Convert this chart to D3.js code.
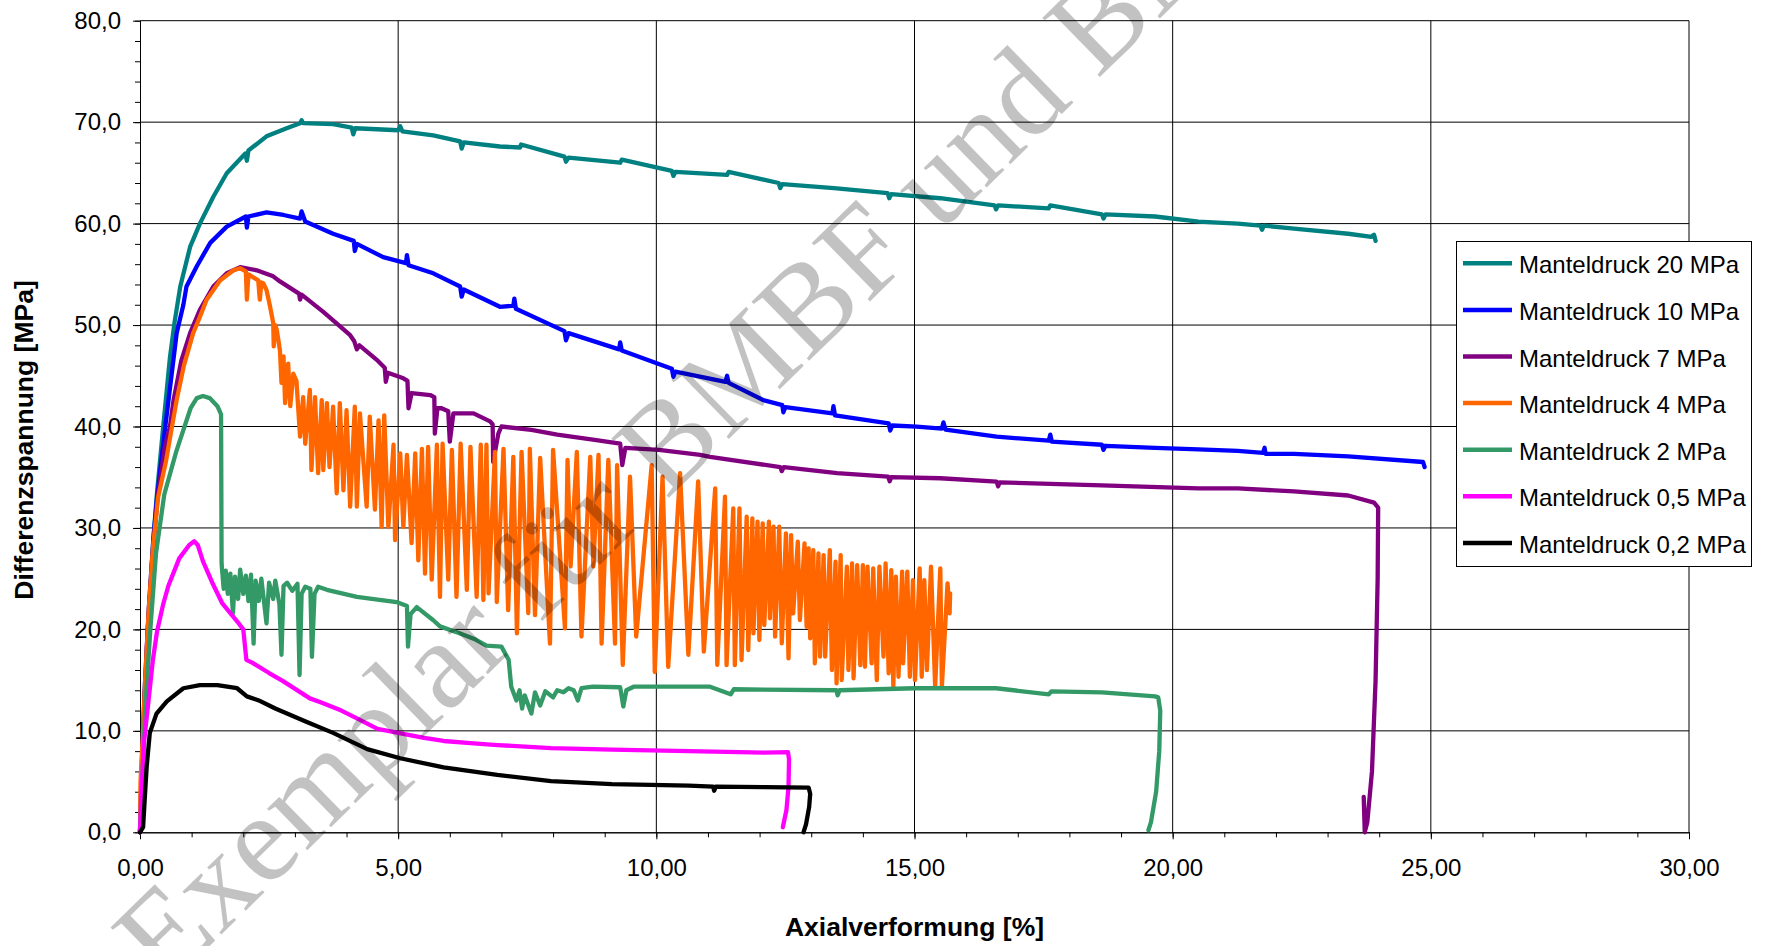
<!DOCTYPE html>
<html><head><meta charset="utf-8">
<script src="https://cdn.jsdelivr.net/npm/d3@7"></script>
<style>body{margin:0;background:#fff}svg{display:block}</style>
</head><body>
<svg id="c" width="1765" height="946"></svg>
<script>
// ---------- data ----------
const xTicks = [0, 5, 10, 15, 20, 25, 30];
const yTicks = [0, 10, 20, 30, 40, 50, 60, 70, 80];
const xMinor = d3.range(0, 31, 1);
const yMinor = d3.range(0, 81, 2);
const seriesNames = ["Manteldruck 20 MPa","Manteldruck 10 MPa","Manteldruck 7 MPa","Manteldruck 4 MPa","Manteldruck 2 MPa","Manteldruck 0,5 MPa","Manteldruck 0,2 MPa"];
const seriesColors = ["#008080","#0000ff","#800080","#ff6600","#339966","#ff00ff","#000000"];

const s20 = [[0,0],[0.04,6],[0.1,14],[0.18,22],[0.26,29],[0.33,33.5],[0.45,40],[0.58,46.8],[0.67,50.3],[0.78,53.8],[0.97,57.7],[1.16,60],[1.42,62.65],[1.68,64.96],[2.04,66.9],[2.07,66.2],[2.1,67.2],[2.45,68.6],[2.84,69.4],[3.1,69.9],[3.13,70.2],[3.16,69.9],[3.74,69.8],[4.1,69.45],[4.13,68.8],[4.17,69.4],[5.0,69.2],[5.04,69.6],[5.08,69.1],[5.68,68.7],[6.2,68.1],[6.23,67.4],[6.27,68.0],[6.97,67.6],[7.36,67.5],[7.38,67.8],[8.22,66.6],[8.25,66.1],[8.3,66.5],[9.3,66.0],[9.33,66.3],[10.3,65.2],[10.33,64.7],[10.37,65.1],[11.37,64.8],[11.4,65.1],[12.37,64.0],[12.4,63.5],[12.44,63.9],[13.44,63.5],[14.48,63.0],[14.51,62.5],[14.55,62.9],[15.5,62.5],[16.55,61.8],[16.58,61.4],[16.62,61.8],[17.6,61.5],[17.63,61.8],[18.63,60.9],[18.66,60.5],[18.7,60.9],[19.66,60.7],[20.5,60.2],[21.26,60.0],[21.7,59.8],[21.73,59.4],[21.77,59.8],[22.35,59.5],[23.4,59.0],[23.85,58.7],[23.9,58.9],[23.93,58.3]];

const s10 = [[0,0],[0.03,6],[0.09,14],[0.17,22],[0.26,29],[0.33,33],[0.49,40],[0.71,49.2],[0.84,52],[0.9,53.8],[1.1,55.8],[1.36,58.1],[1.68,59.7],[2.05,60.7],[2.07,59.6],[2.1,60.7],[2.45,61.1],[2.78,60.85],[3.1,60.5],[3.13,61.2],[3.2,60.2],[3.74,59.0],[4.14,58.3],[4.16,57.3],[4.2,58.0],[4.71,56.7],[5.15,56.1],[5.17,56.9],[5.2,55.9],[5.68,55.1],[6.2,53.8],[6.23,52.8],[6.27,53.5],[6.97,51.8],[7.23,51.9],[7.25,52.6],[7.28,51.6],[8.22,49.4],[8.25,48.5],[8.3,49.2],[9.28,47.6],[9.3,48.3],[9.33,47.5],[10.3,45.7],[10.33,44.9],[10.37,45.4],[11.34,44.4],[11.37,45.0],[11.4,44.3],[12.07,42.6],[12.44,42.1],[12.46,41.4],[12.5,41.9],[13.41,41.3],[13.43,42.0],[13.46,41.1],[14.5,40.3],[14.53,39.6],[14.57,40.1],[15.04,39.98],[15.53,39.8],[15.56,40.4],[15.6,39.7],[16.59,39.0],[17.6,38.6],[17.63,39.2],[17.66,38.5],[18.63,38.2],[18.66,37.7],[18.7,38.1],[19.66,37.9],[20.5,37.75],[21.26,37.6],[21.75,37.4],[21.78,37.9],[21.8,37.3],[22.35,37.3],[23.4,37.05],[24.85,36.5],[24.88,36.0]];

const s7 = [[0,0],[0.03,5],[0.08,12],[0.15,20],[0.24,27],[0.34,33],[0.48,38],[0.58,40],[0.65,42.6],[0.8,46.5],[0.97,49.2],[1.16,51.5],[1.42,53.8],[1.68,55.1],[1.94,55.7],[2.26,55.4],[2.58,54.8],[2.71,54.3],[3.08,53.1],[3.1,52.5],[3.13,53.0],[3.55,51.3],[4.07,49.0],[4.15,48.4],[4.2,47.6],[4.25,48.0],[4.58,46.6],[4.74,45.8],[4.76,44.4],[4.8,45.3],[5.1,44.75],[5.18,44.5],[5.2,41.8],[5.26,43.3],[5.62,43.1],[5.7,42.9],[5.71,39.3],[5.76,41.8],[5.84,41.8],[5.97,41.5],[6.0,38.5],[6.07,41.3],[6.46,41.3],[6.78,40.5],[6.83,40.2],[6.84,36.5],[6.94,39.3],[7.0,40.0],[7.58,39.66],[8.08,39.2],[8.77,38.7],[9.3,38.3],[9.34,36.2],[9.4,37.9],[9.56,37.85],[10.05,37.7],[10.85,37.2],[11.04,37.0],[12.4,36.0],[12.43,35.6],[12.47,36.0],[13.5,35.4],[14.49,35.05],[14.52,34.6],[14.55,35.0],[15.5,34.9],[16.59,34.56],[16.62,34.1],[16.65,34.5],[18.63,34.2],[20.5,33.9],[21.26,33.9],[22.35,33.6],[23.4,33.2],[23.9,32.5],[23.98,32.0],[23.97,25],[23.93,15],[23.86,6],[23.77,1],[23.72,0],[23.7,3.5],[23.72,1.0]];

const s4 = [[0,0],[0.01,5],[0.05,9],[0.1,15],[0.17,22],[0.25,28],[0.35,33],[0.5,36.5],[0.62,40],[0.71,42.6],[0.85,46],[1.03,49.2],[1.16,50.8],[1.29,52.5],[1.55,54.4],[1.81,55.4],[1.94,55.6],[2.05,55.3],[2.07,52.5],[2.1,55.0],[2.16,54.8],[2.29,54.4],[2.32,52.5],[2.35,54.2],[2.39,54.1],[2.45,53.45],[2.52,51.8],[2.58,50.2],[2.59,47.9],[2.62,50.0],[2.65,49.5],[2.71,47.5],[2.74,44.3],[2.78,46.9],[2.81,42.3],[2.87,46.2],[2.91,42.0],[2.97,45.2],[3.03,44.5],[3.1,39.0],[3.16,42.9],[3.2,38.3],[3.29,43.6],[3.32,35.7],[3.39,42.9],[3.45,35.4],[3.52,42.6],[3.55,35.7],[3.62,42.3],[3.67,36.0],[3.74,41.95],[3.81,33.4],[3.87,42.3],[3.94,33.7],[4.0,41.6],[4.07,32.1],[4.16,41.95],[4.2,32.1],[4.26,41.3],[4.39,32.1],[4.45,40.96],[4.55,31.8],[4.62,40.6],[4.68,30.1],[4.73,41.1],[4.81,30.1],[4.91,38.2],[4.94,28.8],[5.04,37.35],[5.1,30.1],[5.17,37.2],[5.26,28.5],[5.33,37.35],[5.39,26.8],[5.46,37.8],[5.52,25.5],[5.58,38.0],[5.65,24.9],[5.75,38.2],[5.81,23.2],[5.86,38.3],[5.97,24.9],[6.04,37.7],[6.13,23.2],[6.21,38.3],[6.33,23.9],[6.4,38.0],[6.52,23.2],[6.6,38.2],[6.65,22.9],[6.71,38.2],[6.75,23.55],[6.875,37.5],[6.91,22.7],[7.04,37.8],[7.13,21.9],[7.23,37.0],[7.3,19.6],[7.39,37.5],[7.52,21.6],[7.55,37.8],[7.65,21.4],[7.75,36.9],[7.94,18.6],[8.0,37.7],[8.23,20.1],[8.28,36.7],[8.34,26.2],[8.46,37.5],[8.55,19.3],[8.72,37.0],[8.78,26.2],[8.88,37.2],[8.94,18.6],[9.07,36.7],[9.2,18.6],[9.24,36.2],[9.35,16.5],[9.49,35.05],[9.61,19.3],[9.91,36.2],[9.97,15.8],[10.12,35.05],[10.23,16.3],[10.46,35.4],[10.62,17.5],[10.81,34.6],[10.92,17.8],[11.14,33.9],[11.18,16.5],[11.33,33.08],[11.36,16.48],[11.49,31.93],[11.52,16.48],[11.61,31.93],[11.65,16.98],[11.75,31.11],[11.78,17.96],[11.86,30.94],[11.88,19.6],[11.96,30.61],[11.995,18.95],[12.06,30.45],[12.09,20.43],[12.18,30.61],[12.2,21.09],[12.27,30.12],[12.3,19.28],[12.38,30.12],[12.43,18.62],[12.51,29.46],[12.56,17.14],[12.61,29.3],[12.65,21.58],[12.74,28.64],[12.78,20.92],[12.87,28.48],[12.91,20.26],[12.95,27.99],[12.98,19.11],[13.04,27.82],[13.07,16.65],[13.14,27.49],[13.17,17.31],[13.24,27.33],[13.27,17.31],[13.36,27.82],[13.4,15.99],[13.47,26.67],[13.49,14.68],[13.57,27.33],[13.59,15.0],[13.69,26.18],[13.72,15.99],[13.79,26.51],[13.82,15.17],[13.89,26.34],[13.95,16.48],[14.0,26.34],[14.04,16.32],[14.09,26.18],[14.17,16.65],[14.2,26.01],[14.27,15.0],[14.32,26.18],[14.4,17.31],[14.44,26.51],[14.5,15.66],[14.55,25.85],[14.59,14.35],[14.64,25.19],[14.69,15.33],[14.76,25.69],[14.78,16.65],[14.86,25.69],[14.91,15.33],[14.97,24.86],[15.01,15.0],[15.1,26.01],[15.14,15.33],[15.19,24.86],[15.24,15.99],[15.32,26.18],[15.4,14.35],[15.5,26.01],[15.53,14.35],[15.64,24.54],[15.68,21.58],[15.69,23.55]];

const s2 = [[0,0],[0.05,6],[0.1,12],[0.2,20],[0.31,27.5],[0.47,33.3],[0.7,37.5],[0.98,41.8],[1.1,42.8],[1.22,43.0],[1.35,42.8],[1.5,42.0],[1.57,41.2],[1.58,26.5],[1.62,24.0],[1.66,25.8],[1.7,23.5],[1.75,25.5],[1.8,21.6],[1.84,25.2],[1.9,23.0],[1.94,25.9],[2.0,23.5],[2.05,25.3],[2.1,22.8],[2.15,25.4],[2.2,18.6],[2.24,24.8],[2.3,22.8],[2.35,25.0],[2.45,20.6],[2.5,24.6],[2.58,23.0],[2.62,24.8],[2.7,22.5],[2.74,17.5],[2.78,24.3],[2.85,24.6],[2.95,23.8],[3.05,24.5],[3.09,15.5],[3.13,23.5],[3.2,24.2],[3.3,24.0],[3.33,17.3],[3.38,23.5],[3.45,24.2],[3.62,23.9],[4.2,23.2],[4.97,22.7],[5.17,22.3],[5.19,18.3],[5.24,21.5],[5.36,22.2],[5.68,20.9],[5.81,20.3],[6.2,19.6],[6.5,19.0],[6.71,18.4],[7.0,18.3],[7.14,17.0],[7.19,14.35],[7.29,13.0],[7.35,14.0],[7.4,12.2],[7.45,13.5],[7.58,11.7],[7.65,13.8],[7.75,12.5],[7.85,13.9],[8.0,13.3],[8.08,14.0],[8.2,13.8],[8.3,14.2],[8.4,14.0],[8.48,13.0],[8.55,14.2],[8.77,14.35],[9.3,14.3],[9.36,12.4],[9.42,14.0],[9.56,14.35],[11.04,14.35],[11.44,13.6],[11.5,14.1],[13.49,14.0],[13.51,13.5],[13.55,14.0],[15.0,14.2],[16.58,14.2],[17.6,13.6],[17.65,13.9],[18.63,13.8],[19.66,13.4],[19.72,13.3],[19.76,12],[19.74,8],[19.68,4],[19.58,1],[19.53,0.2]];

const s05 = [[0,0],[0.03,4],[0.08,9],[0.17,13.2],[0.25,17],[0.33,19.8],[0.45,22.5],[0.55,24.3],[0.76,27.0],[0.95,28.3],[1.05,28.7],[1.12,28.3],[1.22,26.7],[1.4,24.6],[1.59,22.6],[1.88,20.8],[2.0,20.0],[2.06,17.0],[2.18,16.7],[2.5,15.7],[2.77,14.9],[3.29,13.2],[3.51,12.8],[3.9,12.0],[4.25,11.1],[4.6,10.2],[5.0,9.8],[5.5,9.3],[5.88,9.0],[6.4,8.8],[6.92,8.6],[7.96,8.3],[9.14,8.14],[10.63,8.0],[12.1,7.85],[12.55,7.9],[12.57,7.2],[12.56,4.5],[12.52,2.2],[12.45,0.5]];

const s02 = [[0,0],[0.06,0.5],[0.1,4],[0.13,6.5],[0.19,9.8],[0.32,11.7],[0.52,12.9],[0.84,14.2],[1.16,14.5],[1.5,14.5],[1.88,14.2],[2.07,13.4],[2.3,13.0],[2.62,12.2],[3.22,10.9],[3.74,9.8],[4.4,8.2],[5.04,7.3],[5.88,6.4],[6.92,5.65],[7.96,5.05],[9.14,4.75],[10.63,4.6],[11.1,4.5],[11.12,4.1],[11.15,4.5],[12.1,4.45],[12.95,4.4],[12.98,3.8],[12.96,2.5],[12.9,0.8],[12.85,0]];

const allSeries = [s20, s10, s7, s4, s2, s05, s02];

// ---------- layout ----------
const svg = d3.select("#c");
const W = 1765, H = 946;
const L = 140, R = 1689, T = 20.7, B = 832.3;
const x = d3.scaleLinear().domain([0, 30]).range([L, R]);
const y = d3.scaleLinear().domain([0, 80]).range([B, T]);
const FONT = "Arial, 'Liberation Sans', Helvetica, sans-serif";

svg.append("rect").attr("width", W).attr("height", H).attr("fill", "#fff");

// gridlines
const g = svg.append("g");
g.selectAll("line.h").data(yTicks.filter(d => d > 0 && d < 80)).join("line")
  .attr("x1", L).attr("x2", R).attr("y1", d => y(d)).attr("y2", d => y(d))
  .attr("stroke", "#000").attr("stroke-width", 1);
g.selectAll("line.v").data(xTicks.filter(d => d > 0 && d < 30)).join("line")
  .attr("y1", T).attr("y2", B).attr("x1", d => x(d)).attr("x2", d => x(d))
  .attr("stroke", "#000").attr("stroke-width", 1);
// frame top/right
svg.append("line").attr("x1", L).attr("x2", R).attr("y1", T).attr("y2", T).attr("stroke", "#000");
svg.append("line").attr("x1", R).attr("x2", R).attr("y1", T).attr("y2", B).attr("stroke", "#000");

// axes
const fmtY = d => d.toFixed(1).replace(".", ",");
const fmtX = d => d.toFixed(2).replace(".", ",");
const ay = svg.append("g").attr("transform", `translate(${L},0)`)
  .call(d3.axisLeft(y).tickValues(yTicks).tickFormat(fmtY).tickSize(7).tickSizeOuter(0).tickPadding(12));
const ayMinor = svg.append("g").attr("transform", `translate(${L},0)`)
  .call(d3.axisLeft(y).tickValues(yMinor).tickFormat("").tickSize(5).tickSizeOuter(0));
const ax = svg.append("g").attr("transform", `translate(0,${B})`)
  .call(d3.axisBottom(x).tickValues(xTicks).tickFormat(fmtX).tickSize(7).tickSizeOuter(0).tickPadding(20));
const axMinor = svg.append("g").attr("transform", `translate(0,${B})`)
  .call(d3.axisBottom(x).tickValues(xMinor).tickFormat("").tickSize(5).tickSizeOuter(0));
[ay, ax, ayMinor, axMinor].forEach(a => {
  a.selectAll("text").attr("font-family", FONT).attr("font-size", 24).attr("fill", "#000");
  a.selectAll("line,path").attr("stroke", "#000").attr("stroke-width", 1);
});

// series
const line = d3.line().x(d => x(d[0])).y(d => y(d[1]));
svg.append("g").selectAll("path").data(allSeries).join("path")
  .attr("d", line).attr("fill", "none")
  .attr("stroke", (d, i) => seriesColors[i])
  .attr("stroke-width", 4.3).attr("stroke-linejoin", "round").attr("stroke-linecap", "round");

// axis titles
svg.append("text").attr("x", (L + R) / 2).attr("y", 936).attr("text-anchor", "middle")
  .attr("font-family", FONT).attr("font-weight", "bold").attr("font-size", 26.5).text("Axialverformung [%]");
svg.append("text").attr("transform", "translate(33,440) rotate(-90)").attr("text-anchor", "middle")
  .attr("font-family", FONT).attr("font-weight", "bold").attr("font-size", 26.5).text("Differenzspannung [MPa]");

// legend
const lg = svg.append("g");
lg.append("rect").attr("x", 1456.5).attr("y", 241.5).attr("width", 295).attr("height", 325)
  .attr("fill", "#fff").attr("stroke", "#000").attr("stroke-width", 1);
const items = lg.selectAll("g.it").data(seriesNames).join("g")
  .attr("transform", (d, i) => `translate(0,${263.3 + i * 46.6})`);
items.append("line").attr("x1", 1463).attr("x2", 1512).attr("stroke", (d, i) => seriesColors[i]).attr("stroke-width", 4.5);
items.append("text").attr("x", 1519).attr("y", 10).attr("font-family", FONT).attr("font-size", 24).text(d => d);

// watermark
svg.append("text").attr("transform", "translate(734,434) rotate(-44.3)").attr("text-anchor", "middle")
  .attr("font-family", "'Liberation Serif', 'Times New Roman', serif").attr("font-size", 126)
  .attr("fill", "#000").attr("fill-opacity", 0.24).text("Exemplar für BMBF und BMU");
</script>
</body></html>
